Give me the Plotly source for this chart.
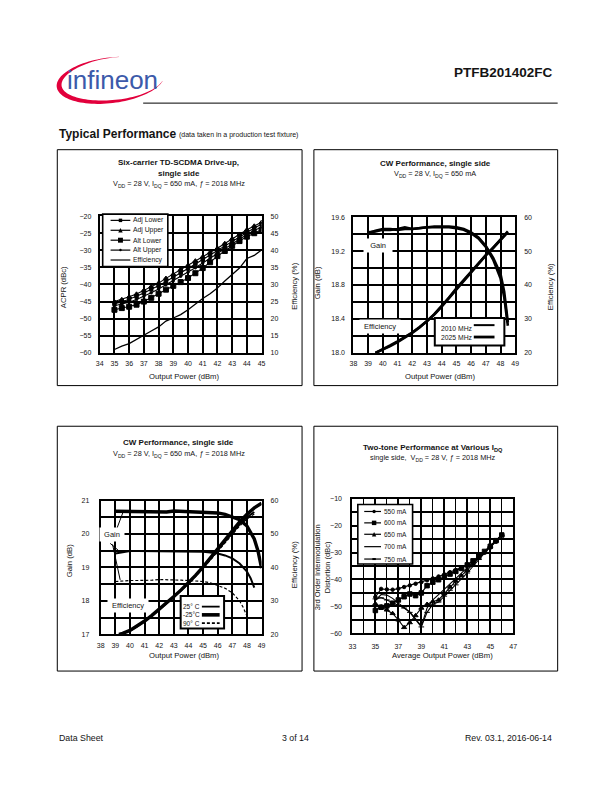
import math
import plotly.graph_objects as go

W, H = 612, 792
FONT = "Liberation Sans, Arial, Helvetica, sans-serif"
INK = "#141414"


def fx(x):
    return x / W


def fy(y):
    return 1 - y / H


# ---------------- Chart 1 : Six-carrier TD-SCDMA drive-up ----------------
c1_pout = [35.0, 35.5, 36.0, 36.5, 37.0, 37.5, 38.0, 38.5, 39.0, 39.5, 40.0,
           40.5, 41.0, 41.5, 42.0, 42.5, 43.0, 43.5, 44.0, 44.5, 45.0]
c1_adj_lower = [-45.6, -45.1, -44.3, -43.5, -42.5, -41.4, -40.4, -39.1, -37.9, -36.6, -35.3,
                -34.0, -32.7, -31.4, -30.1, -28.7, -27.4, -26.0, -24.7, -23.5, -22.4]
c1_adj_upper = [-45.0, -44.4, -43.6, -42.8, -41.7, -40.6, -39.6, -38.2, -37.0, -35.6, -34.4,
                -33.1, -31.9, -30.6, -29.4, -28.0, -26.6, -25.3, -24.0, -22.9, -21.8]
c1_alt_lower = [-47.4, -46.9, -46.5, -45.9, -45.0, -43.9, -42.7, -41.5, -40.4, -39.3, -38.1,
                -36.7, -35.2, -33.5, -31.7, -30.2, -28.7, -27.3, -26.0, -25.0, -24.0]
c1_alt_upper = [-46.2, -45.8, -45.2, -44.4, -43.5, -42.4, -41.3, -40.1, -38.9, -37.6, -36.4,
                -35.1, -33.7, -32.3, -30.8, -29.4, -28.0, -26.7, -25.4, -24.2, -23.2]
c1_eff = [11.0, 12.0, 12.7, 14.0, 15.3, 16.4, 17.6, 19.3, 20.2, 21.2, 22.6,
          24.3, 25.9, 27.3, 29.0, 31.0, 32.8, 34.8, 37.6, 38.5, 40.1]
c1_x_ticks = [34, 35, 36, 37, 38, 39, 40, 41, 42, 43, 44, 45]
c1_acpr_ticks = [-60, -55, -50, -45, -40, -35, -30, -25, -20]
c1_eff_ticks = [10, 15, 20, 25, 30, 35, 40, 45, 50]
c1_legend = ["Adj Lower", "Adj Upper", "Alt Lower", "Alt Upper", "Efficiency"]

# ---------------- Chart 2 : CW performance, two frequencies ----------------
c2_gain_pout = [39.0, 39.5, 40.0, 40.5, 41.0, 41.5, 42.0, 42.5, 43.0, 43.5, 44.0,
                44.5, 45.0, 45.5, 46.0, 46.5, 47.0, 47.5, 48.0, 48.25, 48.5]
c2_gain_2010 = [19.42, 19.43, 19.45, 19.45, 19.46, 19.48, 19.46, 19.47, 19.48, 19.49, 19.49,
                19.49, 19.48, 19.46, 19.42, 19.36, 19.26, 19.12, 18.93, 18.72, 18.36]
c2_gain_2025 = [19.41, 19.44, 19.46, 19.46, 19.45, 19.46, 19.46, 19.47, 19.48, 19.48, 19.48,
                19.48, 19.47, 19.45, 19.41, 19.35, 19.25, 19.10, 18.88, 18.66, 18.32]
c2_eff_pout = [39.5, 40.0, 40.5, 41.0, 41.5, 42.0, 42.5, 43.0, 43.5, 44.0,
               44.5, 45.0, 45.5, 46.0, 46.5, 47.0, 47.5, 48.0, 48.5]
c2_eff_2010 = [20.0, 21.0, 22.2, 23.4, 24.6, 26.0, 27.6, 29.3, 31.4, 33.7,
               36.3, 39.0, 41.5, 43.9, 46.4, 48.8, 50.9, 53.2, 55.6]
c2_eff_2025 = [20.0, 20.9, 22.0, 23.2, 24.5, 25.9, 27.5, 29.3, 31.3, 33.6,
               36.1, 38.8, 41.4, 43.8, 46.3, 48.7, 51.0, 53.3, 55.8]
c2_x_ticks = [38, 39, 40, 41, 42, 43, 44, 45, 46, 47, 48, 49]
c2_gain_ticks = [18.0, 18.4, 18.8, 19.2, 19.6]
c2_gain_minor = [18.2, 18.6, 19.0, 19.4]
c2_eff_ticks = [20, 30, 40, 50, 60]
c2_legend = ["2010 MHz", "2025 MHz"]

# ---------------- Chart 3 : CW performance vs temperature ----------------
c3_gain_pout_m25 = [39.0, 39.5, 40.0, 40.5, 41.0, 41.5, 42.0, 42.5, 43.0, 43.5, 44.0,
                    44.5, 45.0, 45.5, 46.0, 46.5, 47.0, 47.5, 48.0, 48.5, 48.75, 49.0]
c3_gain_m25 = [20.68, 20.68, 20.68, 20.68, 20.68, 20.67, 20.66, 20.66, 20.69, 20.68, 20.67,
               20.67, 20.66, 20.65, 20.63, 20.59, 20.52, 20.43, 20.24, 19.85, 19.50, 18.98]
c3_gain_pout_25 = [39.0, 39.5, 40.0, 40.5, 41.0, 41.5, 42.0, 42.5, 43.0, 43.5, 44.0,
                   44.5, 45.0, 45.5, 46.0, 46.5, 47.0, 47.5, 48.0, 48.25, 48.5]
c3_gain_25 = [19.42, 19.46, 19.49, 19.49, 19.49, 19.49, 19.49, 19.49, 19.49, 19.49, 19.48,
              19.47, 19.47, 19.45, 19.42, 19.36, 19.27, 19.12, 18.88, 18.68, 18.40]
c3_gain_pout_90 = [39.0, 39.5, 40.0, 40.5, 41.0, 41.5, 42.0, 42.5, 43.0, 43.5, 44.0,
                   44.5, 45.0, 45.5, 46.0, 46.5, 47.0, 47.5, 47.75, 48.0]
c3_gain_90 = [18.58, 18.60, 18.61, 18.61, 18.61, 18.62, 18.64, 18.64, 18.63, 18.62, 18.61,
              18.60, 18.58, 18.54, 18.47, 18.38, 18.24, 18.00, 17.80, 17.55]
c3_eff_pout_m25 = [39.25, 39.5, 40.0, 40.5, 41.0, 41.5, 42.0, 42.5, 43.0, 43.5, 44.0,
                   44.5, 45.0, 45.5, 46.0, 46.5, 47.0, 47.5, 48.0, 48.5, 49.0]
c3_eff_m25 = [20.0, 20.3, 21.2, 22.5, 24.0, 25.7, 27.5, 29.4, 31.3, 33.3, 35.4,
              37.7, 40.2, 42.9, 45.6, 48.5, 51.2, 53.6, 55.9, 57.8, 59.2]
c3_eff_pout = [39.25, 39.5, 40.0, 40.5, 41.0, 41.5, 42.0, 42.5, 43.0, 43.5, 44.0,
               44.5, 45.0, 45.5, 46.0, 46.5, 47.0, 47.5, 48.0, 48.5]
c3_eff_25 = [20.0, 20.3, 21.1, 22.4, 23.9, 25.6, 27.4, 29.3, 31.2, 33.2, 35.3,
             37.6, 40.0, 42.6, 45.2, 47.9, 50.5, 52.9, 55.0, 56.6]
c3_eff_90 = [20.0, 20.3, 21.1, 22.4, 23.9, 25.6, 27.4, 29.3, 31.2, 33.1, 35.2,
             37.4, 39.7, 42.2, 44.8, 47.4, 50.0, 52.4, 54.5, 56.0]
c3_x_ticks = [38, 39, 40, 41, 42, 43, 44, 45, 46, 47, 48, 49]
c3_gain_ticks = [17, 18, 19, 20, 21]
c3_gain_minor = [17.5, 18.5, 19.5, 20.5]
c3_eff_ticks = [20, 30, 40, 50, 60]
c3_legend = ["25° C", "-25°C", "90° C"]

# ---------------- Chart 4 : Two-tone IMD at various IDQ ----------------
c4_pout = [35.0, 35.5, 36.0, 36.5, 37.0, 37.5, 38.0, 38.5, 39.0, 39.5, 40.0, 40.5,
           41.0, 41.5, 42.0, 42.5, 43.0, 43.5, 44.0, 44.5, 45.0, 45.5, 46.0]
c4_imd_550 = [-46.5, -43.5, -43.7, -43.8, -43.4, -42.8, -42.2, -41.6, -41.0, -40.3, -39.6, -38.9,
              -38.1, -37.3, -36.5, -35.6, -34.6, -33.3, -31.8, -30.1, -28.2, -26.0, -23.5]
c4_imd_600 = [-51.5, -50.3, -49.8, -48.8, -47.6, -46.4, -45.4, -46.0, -45.0, -42.3, -41.0, -40.1,
              -39.0, -38.0, -37.0, -35.9, -34.6, -33.1, -31.4, -29.6, -27.7, -25.6, -23.5]
c4_imd_650 = [-49.0, -50.1, -51.3, -52.6, -55.0, -57.8, -56.0, -53.4, -50.6, -49.2, -48.2, -47.6,
              -45.2, -42.8, -40.6, -38.6, -36.6, -34.4, -32.1, -29.9, -27.8, -25.6, -23.5]
c4_imd_700 = [-47.8, -45.6, -45.8, -47.0, -48.8, -50.4, -52.0, -54.6, -57.3, -50.6, -47.6, -45.6,
              -43.6, -41.6, -39.6, -37.9, -35.9, -33.8, -31.6, -29.6, -27.5, -25.5, -23.5]
c4_imd_750 = [-47.2, -46.8, -47.6, -48.6, -49.6, -50.6, -52.2, -55.0, -57.6, -52.2, -49.2, -48.4,
              -46.2, -44.0, -42.0, -40.0, -37.6, -35.1, -32.6, -30.1, -27.8, -25.6, -23.5]
c4_x_major = [33, 35, 37, 39, 41, 43, 45, 47]
c4_x_minor = [34, 36, 38, 40, 42, 44, 46]
c4_y_ticks = [-60, -50, -40, -30, -20, -10]
c4_y_minor = [-55, -45, -35, -25, -15]
c4_legend = ["550 mA", "600 mA", "650 mA", "700 mA", "750 mA"]

# ---------------------------------------------------------------------------
fig = go.Figure()


def add_line(x, y, xa, ya, width=1.2, dash="solid", symbol=None, msize=4):
    mode = "lines+markers" if symbol else "lines"
    fig.add_trace(go.Scatter(
        x=x, y=y, xaxis=xa, yaxis=ya, mode=mode,
        line=dict(color="black", width=width, dash=dash),
        marker=dict(symbol=symbol or "circle", size=msize, color="black",
                    line=dict(color="black", width=1)),
        hoverinfo="skip", showlegend=False))


DOTDASH = "3px,2px"

# chart 1
add_line(c1_pout, c1_adj_lower, "x", "y", 1.1, symbol="square", msize=3.5)
add_line(c1_pout, c1_adj_upper, "x", "y", 1.1, symbol="triangle-up", msize=4.5)
add_line(c1_pout, c1_alt_lower, "x", "y", 1.1, symbol="square", msize=5)
add_line(c1_pout, c1_alt_upper, "x", "y", 1.1, symbol="circle", msize=2.5)
add_line(c1_pout, c1_eff, "x", "y2", 1.3)
# chart 2
add_line(c2_gain_pout, c2_gain_2010, "x2", "y3", 2.6)
add_line(c2_gain_pout, c2_gain_2025, "x2", "y3", 2.6)
add_line(c2_eff_pout, c2_eff_2010, "x2", "y4", 2.6)
add_line(c2_eff_pout, c2_eff_2025, "x2", "y4", 2.6)
# chart 3
add_line(c3_gain_pout_m25, c3_gain_m25, "x3", "y5", 3.4)
add_line(c3_gain_pout_25, c3_gain_25, "x3", "y5", 2.0)
add_line(c3_gain_pout_90, c3_gain_90, "x3", "y5", 1.2, dash=DOTDASH)
add_line(c3_eff_pout_m25, c3_eff_m25, "x3", "y6", 3.4)
add_line(c3_eff_pout, c3_eff_25, "x3", "y6", 2.0)
add_line(c3_eff_pout, c3_eff_90, "x3", "y6", 1.2, dash=DOTDASH)
# chart 4
add_line(c4_pout, c4_imd_550, "x4", "y7", 1.1, symbol="circle", msize=3.5)
add_line(c4_pout, c4_imd_600, "x4", "y7", 1.1, symbol="square", msize=4.5)
add_line(c4_pout, c4_imd_650, "x4", "y7", 1.1, symbol="triangle-up", msize=4.5)
add_line(c4_pout, c4_imd_700, "x4", "y7", 1.1)
add_line(c4_pout, c4_imd_750, "x4", "y7", 1.1, symbol="line-ew", msize=4)

tickfont = dict(family=FONT, size=7, color=INK)


def minor_grid(vals, width=1.8):
    return dict(tickvals=vals, showgrid=True, gridcolor="black", gridwidth=width, ticks="")


def frame_axis(**kw):
    d = dict(showline=True, linecolor="black", linewidth=2, mirror=True,
             showgrid=True, gridcolor="black", gridwidth=1.8, zeroline=False,
             ticks="", tickfont=tickfont, fixedrange=True, layer="below traces")
    d.update(kw)
    return d


def right_axis(**kw):
    d = dict(showline=False, showgrid=False, zeroline=False, ticks="",
             tickfont=tickfont, fixedrange=True, side="right")
    d.update(kw)
    return d


layout_axes = dict(
    xaxis=frame_axis(domain=[fx(97), fx(261)], range=[34, 45], tickvals=c1_x_ticks,
                     anchor="y", ticklabelstandoff=3),
    yaxis=frame_axis(domain=[fy(352), fy(214)], range=[-60, -20], tickvals=c1_acpr_ticks,
                     anchor="x", ticklabelstandoff=5),
    yaxis2=right_axis(overlaying="y", anchor="x", range=[10, 50], tickvals=c1_eff_ticks,
                      ticklabelstandoff=8),
    xaxis2=frame_axis(domain=[fx(354), fx(518)], range=[38, 49], tickvals=c2_x_ticks,
                      anchor="y3", ticklabelstandoff=3),
    yaxis3=frame_axis(domain=[fy(352), fy(215)], range=[18.0, 19.6], tickvals=c2_gain_ticks,
                      tickformat=".1f", anchor="x2", ticklabelstandoff=5,
                      minor=minor_grid(c2_gain_minor)),
    yaxis4=right_axis(overlaying="y3", anchor="x2", range=[20, 60], tickvals=c2_eff_ticks,
                      ticklabelstandoff=8),
    xaxis3=frame_axis(domain=[fx(98), fx(261)], range=[38, 49], tickvals=c3_x_ticks,
                      anchor="y5", ticklabelstandoff=3),
    yaxis5=frame_axis(domain=[fy(636), fy(501)], range=[17, 21], tickvals=c3_gain_ticks,
                      anchor="x3", ticklabelstandoff=8, minor=minor_grid(c3_gain_minor)),
    yaxis6=right_axis(overlaying="y5", anchor="x3", range=[20, 60], tickvals=c3_eff_ticks,
                      ticklabelstandoff=8),
    xaxis4=frame_axis(domain=[fx(353), fx(516)], range=[33, 47], tickvals=c4_x_major,
                      anchor="y7", ticklabelstandoff=5, minor=minor_grid(c4_x_minor, 1)),
    yaxis7=frame_axis(domain=[fy(635), fy(499)], range=[-60, -10], tickvals=c4_y_ticks,
                      anchor="x4", ticklabelstandoff=7, minor=minor_grid(c4_y_minor)),
)

ann = []
shapes = []


def text(x, y, s, size=7.5, anchor="center", bold=False, angle=0, color=INK, fam=FONT,
         xref="paper", yref="paper", bg=None, pad=1, yanchor="middle"):
    if bold:
        s = "<b>" + s + "</b>"
    a = dict(text=s, showarrow=False, xanchor=anchor, yanchor=yanchor,
             font=dict(family=fam, size=size, color=color), textangle=angle,
             xref=xref, yref=yref, borderpad=pad)
    a["x"] = fx(x) if xref == "paper" else x
    a["y"] = fy(y) if yref == "paper" else y
    if bg:
        a["bgcolor"] = bg
    ann.append(a)


def pline(x0, y0, x1, y1, width=1.0, dash="solid"):
    shapes.append(dict(type="line", xref="paper", yref="paper",
                       x0=fx(x0), y0=fy(y0), x1=fx(x1), y1=fy(y1),
                       line=dict(color="black", width=width, dash=dash), layer="above"))


def prect(x0, y0, x1, y1, width=1.0, fill="rgba(0,0,0,0)", layer="above"):
    shapes.append(dict(type="rect", xref="paper", yref="paper",
                       x0=fx(x0), y0=fy(y0), x1=fx(x1), y1=fy(y1),
                       line=dict(color="black", width=width), fillcolor=fill, layer=layer))


def pmarker(x, y, kind, s):
    if kind == "square":
        shapes.append(dict(type="rect", xref="paper", yref="paper",
                           x0=fx(x - s / 2), x1=fx(x + s / 2), y0=fy(y - s / 2), y1=fy(y + s / 2),
                           fillcolor="black", line=dict(width=0), layer="above"))
    elif kind == "circle":
        shapes.append(dict(type="circle", xref="paper", yref="paper",
                           x0=fx(x - s / 2), x1=fx(x + s / 2), y0=fy(y - s / 2), y1=fy(y + s / 2),
                           fillcolor="black", line=dict(width=0), layer="above"))
    elif kind == "triangle":
        path = "M {:.5f},{:.5f} L {:.5f},{:.5f} L {:.5f},{:.5f} Z".format(
            fx(x), fy(y - s / 2), fx(x - s / 2), fy(y + s / 2), fx(x + s / 2), fy(y + s / 2))
        shapes.append(dict(type="path", xref="paper", yref="paper", path=path,
                           fillcolor="black", line=dict(width=0), layer="above"))
    elif kind == "dash":
        pline(x - s / 2, y, x + s / 2, y, width=2)


# ---------- page header ----------
def swoosh_path():
    cx, cy, rx, ry = 108.0, 77.0, 55.0, 23.0
    phi = math.radians(7)
    t0, t1, n = 78.0, 342.0, 80
    outer, inner = [], []
    for i in range(n + 1):
        t = math.radians(t0 + (t1 - t0) * i / n)
        s = math.sin(math.pi * i / n)
        w = 0.3 + 5.2 * (s ** 1.3)
        for rr, lst in ((0.0, outer), (w, inner)):
            u = (rx - rr) * math.cos(t)
            v = -(ry - rr * 0.75) * math.sin(t)
            X = cx + u * math.cos(phi) + v * math.sin(phi)
            Y = cy - u * math.sin(phi) + v * math.cos(phi)
            lst.append((X, Y))
    pts = outer + inner[::-1]
    return "M " + " L ".join("{:.5f},{:.5f}".format(fx(a), fy(b)) for a, b in pts) + " Z"


shapes.append(dict(type="path", xref="paper", yref="paper", path=swoosh_path(),
                   fillcolor="#e2003c", line=dict(width=0), layer="above"))
text(110, 77, "infineon", size=26, color="#3c5aaa")
text(558, 69, "PTFB201402FC", size=13.5, anchor="right", bold=True)
pline(141, 100, 561, 100, width=1)
text(54, 131, "Typical Performance", size=12, anchor="left", bold=True)
text(175, 132, "(data taken in a production test fixture)", size=7, anchor="left")

# ---------- footer ----------
text(54, 741, "Data Sheet", size=8.8, anchor="left")
text(295, 741, "3 of 14", size=8.8)
text(557, 741, "Rev. 03.1, 2016-06-14", size=8.8, anchor="right")

# ---------- chart boxes ----------
prect(54, 147, 302, 385, width=1)
prect(314, 147, 561, 385, width=1)
prect(54, 426, 302, 673, width=1)
prect(314, 426, 561, 673, width=1)

SUB = "V<sub>DD</sub> = 28 V, I<sub>DQ</sub> = 650 mA"
F = ", <i>ƒ</i> = 2018 MHz"

# ---------- chart 1 texts ----------
text(177, 160, "Six-carrier TD-SCDMA Drive-up,", size=8, bold=True)
text(177, 171, "single side", size=8, bold=True)
text(177, 182, SUB + F, size=7.3)
text(60.5, 286, "ACPR (dBc)", size=7.7, angle=-90)
text(294, 285, "Efficiency (%)", size=7.7, angle=-90)
text(183, 375.5, "Output Power (dBm)", size=7.7)
prect(100, 212, 166, 265, width=1.6, fill="white")
c1_marks = [("square", 3.5), ("triangle", 4.5), ("square", 5), ("circle", 2.5), (None, 0)]
for i, name in enumerate(c1_legend):
    yy = 218.3 + i * 10.0
    pline(108, yy, 128, yy, width=1.2)
    kind, s = c1_marks[i]
    if kind:
        pmarker(118, yy, kind, s)
    text(129, yy, name, size=6.8, anchor="left")

# ---------- chart 2 texts ----------
text(437, 161, "CW Performance, single side", size=8, bold=True)
text(437, 171.5, SUB, size=7.3)
text(318, 281, "Gain (dB)", size=7.7, angle=-90)
text(554, 285, "Efficiency (%)", size=7.7, angle=-90)
text(442, 375.5, "Output Power (dBm)", size=7.7)
text(39.7, 19.26, "  Gain  ", size=7.5, xref="x2", yref="y3", bg="white", pad=2)
text(39.78, 18.31, " Efficiency ", size=7.5, xref="x2", yref="y3", bg="white", pad=2)
prect(436.5, 316.7, 507, 344.5, width=2, fill="white")
for i, name in enumerate(c2_legend):
    ty = 327 + i * 9
    sy = 324 + i * 12
    pline(476, sy, 497, sy, width=2.0 + i * 0.8)
    text(441, ty, name, size=6.8, anchor="left")

# ---------- chart 3 texts ----------
text(177, 442, "CW Performance, single side", size=8, bold=True)
text(177, 454, SUB + F, size=7.3)
text(66, 562, "Gain (dB)", size=7.7, angle=-90)
text(295, 566, "Efficiency (%)", size=7.7, angle=-90)
text(183, 657, "Output Power (dBm)", size=7.7)
text(38.76, 20.0, " Gain ", size=7.5, xref="x3", yref="y5", bg="white", pad=2)
text(39.88, 17.85, " Efficiency ", size=7.5, xref="x3", yref="y5", bg="white", pad=2)
c3_leaders = [((39.1, 20.16), (39.55, 20.68)),
              ((38.65, 19.72), (39.37, 19.45)),
              ((38.81, 19.69), (39.33, 18.63))]
for (a, b) in c3_leaders:
    shapes.append(dict(type="line", xref="x3", yref="y5", x0=a[0], y0=a[1], x1=b[0], y1=b[1],
                       line=dict(color="black", width=1), layer="above"))
prect(179, 597.3, 223, 630, width=2, fill="white")
c3_styles = [(1.8, "solid"), (3.6, "solid"), (1.6, DOTDASH)]
for i, name in enumerate(c3_legend):
    yy = 608 + i * 8.3
    w, d = c3_styles[i]
    pline(200.5, yy, 218.5, yy, width=w, dash=d)
    text(200.5, yy, name, size=6.5, anchor="right")

# ---------- chart 4 texts ----------
text(435, 448, "Two-tone Performance at Various I<sub>DQ</sub>", size=8, bold=True)
text(435, 458, "single side,  V<sub>DD</sub> = 28 V, <i>ƒ</i> = 2018 MHz", size=7.3)
text(323.5, 568, "3rd Order Intermodulation<br>Distortion (dBc)", size=7.5, angle=-90)
text(444, 657.5, "Average Output Power (dBm)", size=7.7)
prect(358.5, 505, 414, 565, width=1.6, fill="white")
c4_marks = [("circle", 3.5), ("square", 4.5), ("triangle", 4.5), (None, 0), ("dash", 3.5)]
c4_rows = [512, 523.5, 535, 547.5, 560]
for i, name in enumerate(c4_legend):
    yy = c4_rows[i]
    pline(365, yy, 382, yy, width=1.2)
    kind, s = c4_marks[i]
    if kind:
        pmarker(375, yy, kind, s)
    text(382.5, yy, name, size=6.5, anchor="left")

fig.update_layout(
    width=W, height=H, margin=dict(l=0, r=0, t=0, b=0),
    paper_bgcolor="white", plot_bgcolor="white", showlegend=False,
    font=dict(family=FONT, size=7, color=INK),
    annotations=ann, shapes=shapes, **layout_axes)

fig.write_html("out.html")
